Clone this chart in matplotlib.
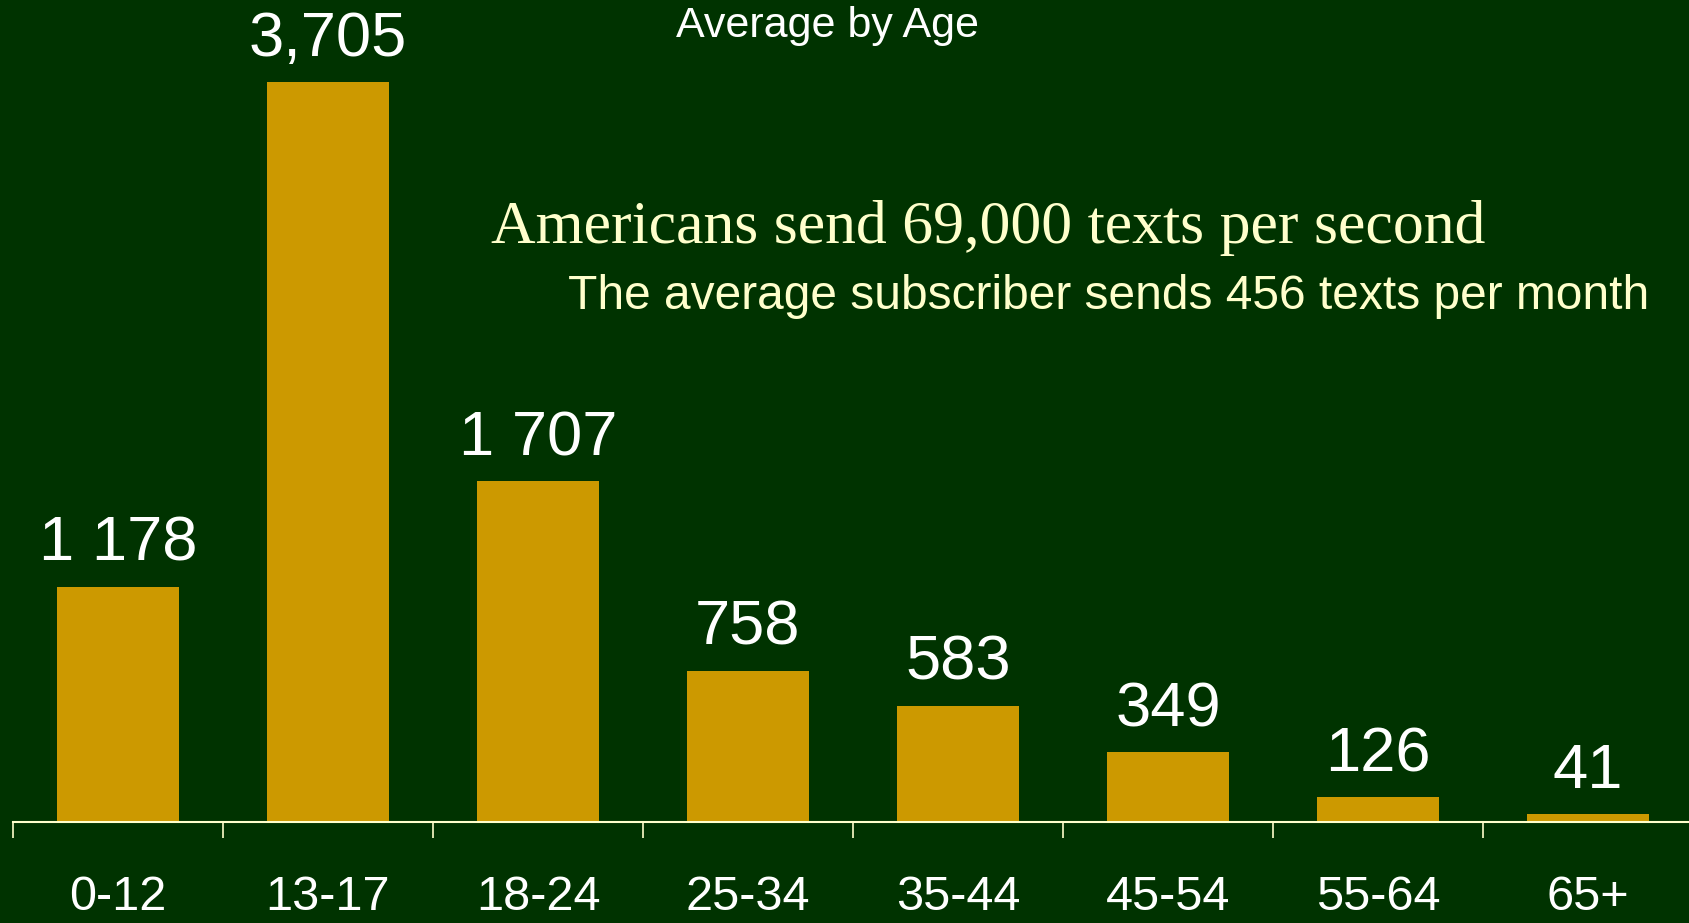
import matplotlib.pyplot as plt

# texting volume per month by age group
ages = ['0-12', '13-17', '18-24', '25-34', '35-44', '45-54', '55-64', '65+']
texts = [1178, 3705, 1707, 758, 583, 349, 126, 41]
value_labels = ['1 178', '3,705', '1 707', '758', '583', '349', '126', '41']

bg = '#003300'
bar_color = '#CC9900'
cream = '#FFFFCC'

fig = plt.figure(figsize=(16.89, 9.23), dpi=100, facecolor=bg)
ax = fig.add_axes([13 / 1689, 101 / 923, 1680 / 1689, 822 / 923], facecolor=bg)

x = list(range(len(ages)))
ax.bar(x, texts, width=0.585, color=bar_color, zorder=2)
for xi, v, lab in zip(x, texts, value_labels):
    ax.annotate(lab, (xi, v), xytext=(0, 18.5), textcoords='offset points',
                ha='center', va='baseline', color='white', fontsize=45.5,
                family='Liberation Sans')

ax.set_xlim(-0.5, len(ages) - 0.5)
ax.set_ylim(0, 4115)

for s in ['top', 'right', 'left']:
    ax.spines[s].set_visible(False)
ax.spines['bottom'].set_color(cream)
ax.spines['bottom'].set_linewidth(1.5)
ax.spines['bottom'].set_zorder(3)
ax.set_yticks([])

# boundary ticks below the axis, category names as minor ticks
ax.set_xticks([i - 0.5 for i in x])
ax.set_xticklabels([])
ax.tick_params(axis='x', which='major', direction='out', length=11.5,
               width=1.2, color=cream)
ax.set_xticks(x, ages, minor=True)
ax.tick_params(axis='x', which='minor', length=0, pad=38.5, labelsize=35,
               labelcolor='white')
for t in ax.get_xticklabels(minor=True):
    t.set_family('Liberation Sans')

fig.text(827 / 1689, 1 - 37 / 923, 'Average by Age', ha='center', va='baseline',
         color='white', fontsize=31, family='Liberation Sans')
fig.text(491 / 1689, 1 - 243 / 923, 'Americans send 69,000 texts per second',
         ha='left', va='baseline', color=cream, fontsize=44.5,
         family='Liberation Serif')
fig.text(568 / 1689, 1 - 309 / 923, 'The average subscriber sends 456 texts per month',
         ha='left', va='baseline', color=cream, fontsize=34.5,
         family='Liberation Sans')

fig.savefig('out.png', dpi=100, facecolor=bg)
